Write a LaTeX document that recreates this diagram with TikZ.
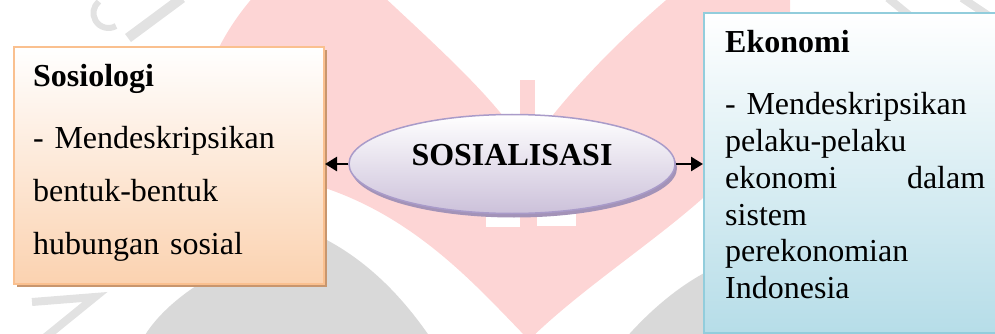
\documentclass[tikz,border=0pt]{standalone}
\usepackage{fontspec}
\setmainfont{Liberation Serif}
\usetikzlibrary{arrows.meta,shapes.geometric,shadows}
\definecolor{sosioline}{HTML}{FAC08F}
\definecolor{sosiofill}{HTML}{FBD2B0}
\definecolor{sosioshadow}{HTML}{C8966E}
\definecolor{ekoline}{HTML}{92CDDC}
\definecolor{ekofill}{HTML}{B6DDE8}
\definecolor{ovalline}{HTML}{A99BC9}
\definecolor{ovalfill}{HTML}{CCC1DA}
\definecolor{ovalshadow}{HTML}{A393B8}
\definecolor{markpink}{HTML}{FDD5D5}
\definecolor{markgrey}{HTML}{D9D9D9}
\definecolor{markring}{HTML}{E2E2E2}

\begin{document}
\begin{tikzpicture}[
  x=1pt,
  y=-1pt,
  every node/.style={inner sep=0pt, text=black},
  sosiobox/.style={draw=sosioline, line width=2pt, top color=white,
                   bottom color=sosiofill, anchor=north west,
                   drop shadow={shadow xshift=3pt, shadow yshift=-3pt,
                                fill=sosioshadow, opacity=1}},
  ekobox/.style={draw=ekoline, line width=2.2pt, top color=white,
                 bottom color=ekofill, anchor=north west},
  oval/.style={ellipse, draw=ovalline, line width=1.5pt, top color=white,
               bottom color=ovalfill,
               drop shadow={shadow xshift=2pt, shadow yshift=-4pt,
                            fill=ovalshadow, opacity=1}},
  heading/.style={font=\fontsize{32}{36}\selectfont\bfseries, anchor=base west},
  body/.style={font=\fontsize{32}{53}\selectfont, anchor=base west, align=left},
  link/.style={line width=2.6pt, -{Triangle[length=12pt, width=14pt]}}
]
  \useasboundingbox (0,0) rectangle (995,334);

  % ---- watermark behind the diagram ------------------------------------
  \fill[markpink] (529,340) .. controls (480,290) and (420,220) .. (325,188)
    -- (200,150) .. controls (190,100) and (215,40) .. (255,-5)
    -- (382,-5) .. controls (430,40) and (480,85) .. (510,125)
    -- (545,125) .. controls (580,80) and (625,35) .. (672,-5)
    -- (790,-5) -- (790,190) -- (703,198)
    .. controls (650,245) and (580,290) .. (529,340) -- cycle;
  \fill[markpink] (520,80) rectangle (535,118);
  \fill[white] (486,200) rectangle (520,227);
  \fill[white] (537,200) rectangle (576,226);
  \fill[markgrey] (142,340) .. controls (170,290) and (250,248) .. (323,238)
    .. controls (370,262) and (405,300) .. (432,340) -- cycle;
  \fill[markgrey] (624,340) .. controls (650,310) and (680,285) .. (710,270)
    -- (710,340) -- cycle;
  \draw[markring, line width=10pt] (128,38) -- (182,-2);
  \draw[markring, line width=6pt] (116,26) arc[start angle=60, end angle=230, radius=15];
  \draw[markring, line width=8pt] (32,302) -- (95,297) -- (42,340);
  \draw[markring, line width=8pt] (888,-2) -- (910,16);
  \draw[markring, line width=8pt] (962,-2) -- (998,22);

  % ---- the three shapes ------------------------------------------------
  \node[sosiobox, minimum width=310, minimum height=237] (sosio) at (13,46) {};
  \node[ekobox, minimum width=312, minimum height=320] (eko) at (703,12) {};
  \node[oval, minimum width=326, minimum height=99,
        font=\fontsize{32}{36}\selectfont\bfseries,
        text height=21.6pt, text depth=19.6pt] (sosial) at (512,164)
    {SOSIALISASI};

  % ---- texts in the boxes ----------------------------------------------
  \node[body, text width=290] (sosiotext) at (33,87)
    {\textbf{Sosiologi}\\[9pt]
     - Mendeskripsikan\\
     bentuk-bentuk\\
     hubungan sosial};
  \node[heading] (ekohead) at (725,53) {Ekonomi};
  \node[body, text width=260, font=\fontsize{32}{36.7}\selectfont] (ekotext)
    at (725,115)
    {\hangindent=18.7pt\hangafter=1
     - Mendeskripsikan\\
     pelaku-pelaku\\
     ekonomi\hfill dalam\\
     sistem\\
     perekonomian\\
     Indonesia};

  % ---- connectors ------------------------------------------------------
  \draw[link] (sosial.west) -- (sosial.west -| sosio.east);
  \draw[link] (sosial.east) -- (sosial.east -| eko.west);
\end{tikzpicture}
\end{document}
